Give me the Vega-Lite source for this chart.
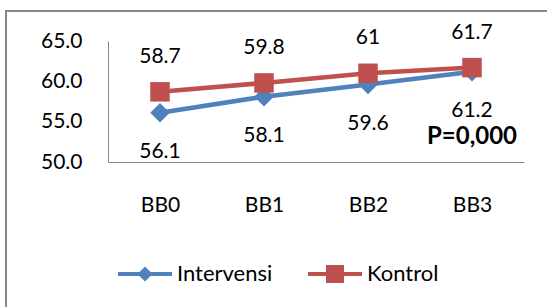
{
  "$schema": "https://vega.github.io/schema/vega-lite/v6.json",
  "autosize": {"type": "none"},
  "width": 560,
  "height": 310,
  "padding": {"left": 6, "top": 11, "right": -19, "bottom": -14},
  "background": "white",
  "config": {
    "font": "Lato",
    "view": {"stroke": "#878787", "strokeWidth": 2},
    "axis": {
      "labelFont": "Lato",
      "labelFontSize": 21,
      "labelColor": "#000000",
      "domainColor": "#868686",
      "domainWidth": 1,
      "ticks": false,
      "tickSize": 0,
      "grid": false,
      "title": null
    },
    "legend": {
      "labelFont": "Lato",
      "labelFontSize": 22,
      "labelColor": "#000000"
    }
  },
  "data": {
    "values": [
      {"series": "Intervensi", "period": "BB0", "value": 56.1},
      {"series": "Intervensi", "period": "BB1", "value": 58.1},
      {"series": "Intervensi", "period": "BB2", "value": 59.6},
      {"series": "Intervensi", "period": "BB3", "value": 61.2},
      {"series": "Kontrol", "period": "BB0", "value": 58.7},
      {"series": "Kontrol", "period": "BB1", "value": 59.8},
      {"series": "Kontrol", "period": "BB2", "value": 61},
      {"series": "Kontrol", "period": "BB3", "value": 61.7}
    ]
  },
  "encoding": {
    "x": {
      "field": "period",
      "type": "ordinal",
      "scale": {"type": "point", "range": [102, 518], "padding": 0.5},
      "axis": {"orient": "bottom", "offset": -159, "labelPadding": 32, "labelAngle": 0}
    },
    "y": {
      "field": "value",
      "type": "quantitative",
      "scale": {"domain": [50, 65], "range": [151, 30], "zero": false, "nice": false},
      "axis": {"orient": "left", "offset": -102, "values": [50, 55, 60, 65], "format": ".1f", "labelPadding": 26}
    }
  },
  "layer": [
    {
      "transform": [{"filter": "datum.value > 1000"}],
      "mark": {"type": "point", "filled": true, "size": 2916, "opacity": 1, "strokeWidth": 0},
      "encoding": {
        "color": {
          "field": "series",
          "type": "nominal",
          "scale": {"domain": ["Intervensi", "Kontrol"], "range": ["#4F81BD", "#C0504D"]},
          "legend": {
            "orient": "none",
            "legendX": 112,
            "legendY": 236,
            "direction": "horizontal",
            "title": null,
            "padding": 0,
            "labelOffset": 5,
            "columnPadding": 35,
            "symbolSize": 2916,
            "symbolStrokeWidth": 0,
            "symbolOpacity": 1
          }
        },
        "shape": {
          "field": "series",
          "type": "nominal",
          "scale": {
            "domain": ["Intervensi", "Kontrol"],
            "range": [
              "M-1,-0.075H1V0.075H-1Z M0,-0.28L0.28,0L0,0.28L-0.28,0Z",
              "M-1,-0.075H1V0.075H-1Z M-0.333,-0.333H0.333V0.333H-0.333Z"
            ]
          },
          "legend": null
        }
      }
    },
    {
      "mark": {"type": "line", "strokeWidth": 4.5},
      "encoding": {"color": {"field": "series", "type": "nominal"}}
    },
    {
      "transform": [{"filter": "datum.series === 'Intervensi'"}],
      "mark": {"type": "point", "filled": true, "size": 380, "opacity": 1, "shape": "diamond"},
      "encoding": {"color": {"field": "series", "type": "nominal"}}
    },
    {
      "transform": [{"filter": "datum.series === 'Kontrol'"}],
      "mark": {"type": "point", "filled": true, "size": 380, "opacity": 1, "shape": "square"},
      "encoding": {"color": {"field": "series", "type": "nominal"}}
    },
    {
      "transform": [{"filter": "datum.series === 'Kontrol'"}],
      "mark": {"type": "text", "dy": -35, "fontSize": 21, "font": "Lato", "color": "#000000"},
      "encoding": {"text": {"field": "value", "type": "quantitative"}}
    },
    {
      "transform": [{"filter": "datum.series === 'Intervensi'"}],
      "mark": {"type": "text", "dy": 39, "fontSize": 21, "font": "Lato", "color": "#000000"},
      "encoding": {"text": {"field": "value", "type": "quantitative"}}
    },
    {
      "data": {"values": [{"period": "BB3", "value": 53.1, "label": "P=0,000"}]},
      "mark": {"type": "text", "fontSize": 24, "fontWeight": "bold", "font": "Lato", "color": "#000000"},
      "encoding": {"text": {"field": "label", "type": "nominal"}}
    }
  ]
}
